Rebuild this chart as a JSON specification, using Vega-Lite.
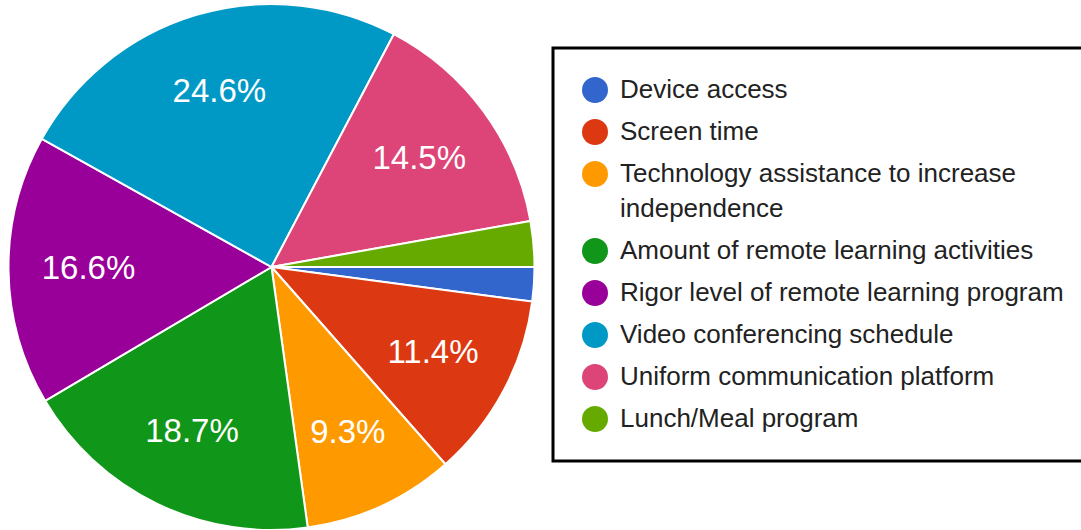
{
  "$schema": "https://vega.github.io/schema/vega-lite/v6.json",
  "width": 543,
  "height": 526,
  "autosize": {"type": "none"},
  "padding": {"top": 4, "left": 0, "right": 538, "bottom": 0},
  "background": "white",
  "data": {
    "values": [
      {"idx": 1, "cat": "Device access", "pct": 0.021},
      {"idx": 2, "cat": "Screen time", "pct": 0.114},
      {"idx": 3, "cat": "Technology assistance to increase independence", "pct": 0.093},
      {"idx": 4, "cat": "Amount of remote learning activities", "pct": 0.187},
      {"idx": 5, "cat": "Rigor level of remote learning program", "pct": 0.166},
      {"idx": 6, "cat": "Video conferencing schedule", "pct": 0.246},
      {"idx": 7, "cat": "Uniform communication platform", "pct": 0.145},
      {"idx": 8, "cat": "Lunch/Meal program", "pct": 0.028}
    ]
  },
  "encoding": {
    "theta": {"field": "pct", "type": "quantitative", "stack": true, "scale": {"range": [1.5708, 7.854]}},
    "order": {"field": "idx", "type": "quantitative"},
    "color": {
      "field": "cat",
      "type": "nominal",
      "scale": {
        "domain": ["Device access", "Screen time", "Technology assistance to increase independence", "Amount of remote learning activities", "Rigor level of remote learning program", "Video conferencing schedule", "Uniform communication platform", "Lunch/Meal program"],
        "range": ["#3366cc", "#dc3912", "#ff9900", "#109618", "#990099", "#0099c6", "#dd4477", "#66aa00"]
      },
      "legend": {
        "title": null,
        "orient": "none",
        "legendX": 553,
        "legendY": 44,
        "labelExpr": "datum.label == 'Technology assistance to increase independence' ? ['Technology assistance to increase', 'independence'] : datum.label"
      }
    }
  },
  "layer": [
    {"mark": {"type": "arc", "outerRadius": 263, "stroke": "white", "strokeWidth": 2}},
    {
      "mark": {"type": "text", "radius": 183, "fontSize": 33, "font": "Liberation Sans", "fill": "white"},
      "encoding": {
        "text": {"condition": {"test": "datum.pct < 0.05", "value": ""}, "field": "pct", "type": "quantitative", "format": ".1%"},
        "color": {"value": "white"}
      }
    }
  ],
  "config": {
    "view": {"stroke": null},
    "legend": {
      "symbolType": "circle",
      "symbolSize": 676,
      "symbolStrokeWidth": 0,
      "labelFont": "Liberation Sans",
      "labelFontSize": 26,
      "labelColor": "#222222",
      "labelOffset": 12,
      "labelLimit": 600,
      "rowPadding": 16,
      "padding": 29,
      "strokeColor": "black",
      "strokeWidth": 3,
      "cornerRadius": 0
    },
    "style": {"guide-label": {"lineHeight": 35}}
  }
}
